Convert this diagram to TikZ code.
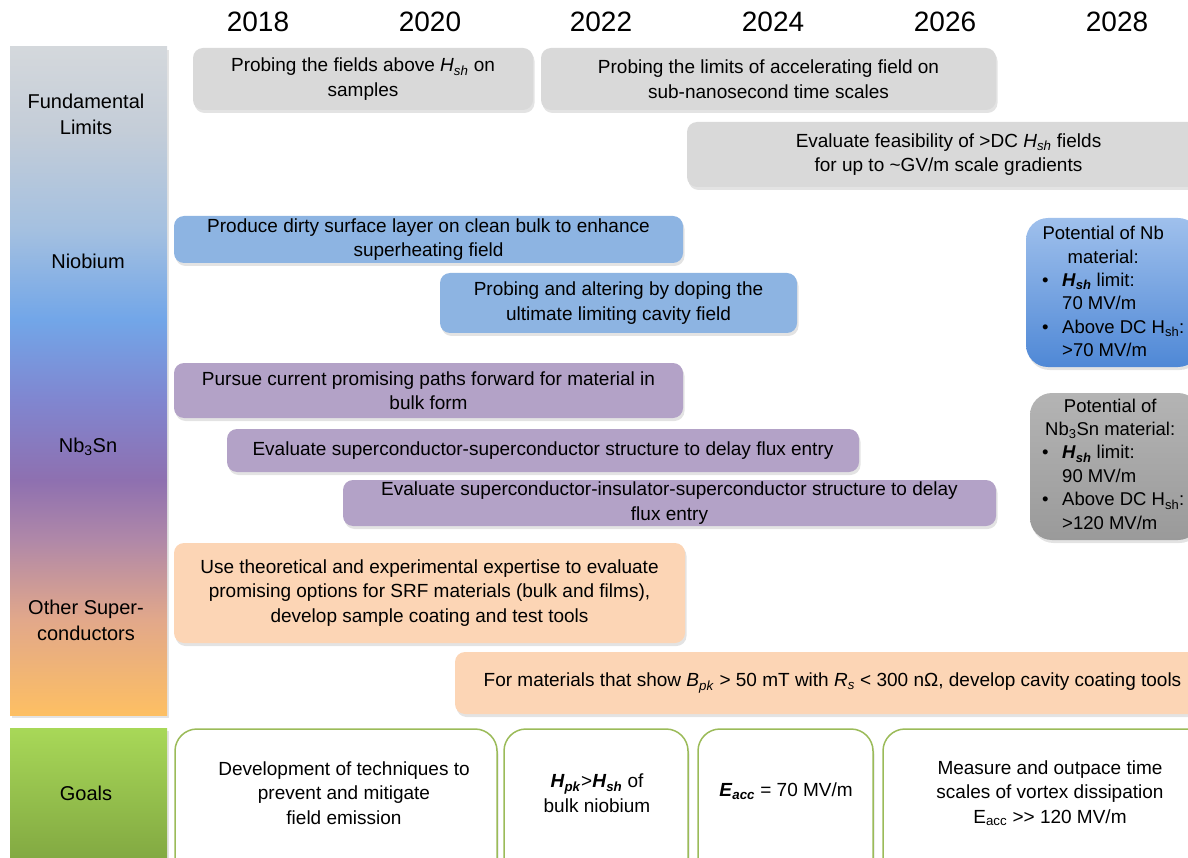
\documentclass[tikz,border=0pt]{standalone}
\usepackage{fontspec}
\setmainfont{Liberation Sans}
\usetikzlibrary{shadows}
\definecolor{grayfill}{HTML}{D9D9D9}
\definecolor{bluefill}{HTML}{8DB4E2}
\definecolor{purplefill}{HTML}{B3A2C7}
\definecolor{orangefill}{HTML}{FCD5B5}
\definecolor{goalgreen}{HTML}{9BBB59}
\definecolor{cOr}{HTML}{FDBF63}
\definecolor{cTan}{HTML}{E2A88A}
\definecolor{cMauve}{HTML}{B088A8}
\definecolor{cPurple}{HTML}{8E70B0}
\definecolor{cViolet}{HTML}{8086D0}
\definecolor{cBlue}{HTML}{72A6E8}
\definecolor{cLBlue}{HTML}{A4C0E0}
\definecolor{cPale}{HTML}{C4CDD8}
\definecolor{cTop}{HTML}{D4D8DC}
\definecolor{gTop}{HTML}{A8D858}
\definecolor{gBot}{HTML}{7FA540}
\definecolor{nbTop}{HTML}{9FC0EC}
\definecolor{nbBot}{HTML}{4F88D6}
\definecolor{snTop}{HTML}{B4B4B4}
\definecolor{snBot}{HTML}{9A9A9A}
\pgfdeclareverticalshading{catbar}{100bp}{color(0bp)=(cOr); color(25bp)=(cOr); color(32.1bp)=(cTan); color(38.1bp)=(cMauve); color(42.6bp)=(cPurple); color(48.6bp)=(cViolet); color(54.6bp)=(cBlue); color(61.3bp)=(cLBlue); color(68.8bp)=(cPale); color(75bp)=(cTop); color(100bp)=(cTop)}
\newcommand\boxfont{\fontsize{19}{24.5}\selectfont}
\newcommand\rfont{\fontsize{18.5}{23.4}\selectfont}
\newcommand\yearfont{\fontsize{28}{32}\selectfont}
\newcommand\catfont{\fontsize{20}{26}\selectfont}
\newcommand\Hsh{\textit{H}\textsubscript{\textit{sh}}}
\newcommand\bHsh{\textbf{\textit{H}\textsubscript{\textit{sh}}}}
\newcommand\bul{\hspace*{6pt}\makebox[20pt][l]{\textbullet}}
\newcommand\hang{\hspace*{26pt}}
\tikzset{
  shade/.style={drop shadow={shadow xshift=1.5pt, shadow yshift=-3pt, opacity=0.22}},
  catbox/.style={rounded corners=10pt, inner sep=0pt, align=center, font=\boxfont, shade},
  goalbox/.style={draw=goalgreen, line width=1.5pt, fill=white, rounded corners=22pt, inner sep=0pt, shade},
  rbox/.style={rounded corners=22pt, inner sep=0pt, shade},
  bar/.style={inner sep=0pt, shade},
  yearlbl/.style={font=\yearfont, inner sep=0pt},
  catlbl/.style={font=\catfont, align=center, inner sep=0pt},
  txt/.style={font=\boxfont, align=center, inner sep=0pt},
}
\begin{document}
\begin{tikzpicture}[x=1pt, y=-1pt]
\useasboundingbox (0,0) rectangle (1188,858);
% years
\node[yearlbl] (y18) at (258,22) {2018};
\node[yearlbl] (y20) at (430,22) {2020};
\node[yearlbl] (y22) at (601,22) {2022};
\node[yearlbl] (y24) at (773,22) {2024};
\node[yearlbl] (y26) at (945,22) {2026};
\node[yearlbl] (y28) at (1117,22) {2028};
% category bar
\node[bar, shading=catbar, minimum width=157, minimum height=668] (cat) at (88.5,381) {};
\node[catlbl] (lfund) at (86,114) {Fundamental\\Limits};
\node[catlbl] (lnb) at (88,261) {Niobium};
\node[catlbl] (lsn) at (88,447) {Nb\textsubscript{3}Sn};
\node[catlbl] (loth) at (86,620) {Other Super-\\conductors};
% goals bar
\node[bar, top color=gTop, bottom color=gBot, minimum width=157, minimum height=142] (goalbar) at (88.5,799) {};
\node[catlbl] (lgoal) at (86,793) {Goals};
% fundamental limits
\node[catbox, fill=grayfill, minimum width=340, minimum height=62] (f1) at (363,79) {Probing the fields above \Hsh{} on\\samples};
\node[catbox, fill=grayfill, minimum width=455, minimum height=62] (f2) at (768.5,79) {Probing the limits of accelerating field on\\sub-nanosecond time scales};
\node[catbox, fill=grayfill, minimum width=523, minimum height=65] (f3) at (948.5,154.5) {Evaluate feasibility of >DC \Hsh{} fields\\for up to \textasciitilde GV/m scale gradients};
% niobium
\node[catbox, fill=bluefill, minimum width=509, minimum height=47] (n1) at (428.5,239.5) {Produce dirty surface layer on clean bulk to enhance\\superheating field};
\node[catbox, fill=bluefill, minimum width=357, minimum height=60] (n2) at (618.5,303) {Probing and altering by doping the\\ultimate limiting cavity field};
% Nb3Sn
\node[catbox, fill=purplefill, minimum width=509, minimum height=55] (s1) at (428.5,390.5) {Pursue current promising paths forward for material in\\bulk form};
\node[catbox, fill=purplefill, minimum width=632, minimum height=43] (s2) at (543,450.5) {Evaluate superconductor-superconductor structure to delay flux entry};
\node[catbox, fill=purplefill, minimum width=653, minimum height=46] (s3) at (669.5,503) {Evaluate superconductor-insulator-superconductor structure to delay\\flux entry};
% other superconductors
\node[catbox, fill=orangefill, minimum width=511, minimum height=100] (o1) at (429.5,593) {Use theoretical and experimental expertise to evaluate\\promising options for SRF materials (bulk and films),\\develop sample coating and test tools};
\node[catbox, fill=orangefill, minimum width=755, minimum height=62] (o2) at (832.5,683) {For materials that show \textit{B}\textsubscript{\textit{pk}} > 50 mT with \textit{R}\textsubscript{\textit{s}} < 300 nΩ, develop cavity coating tools};
% potential boxes
\node[rbox, top color=nbTop, bottom color=nbBot, minimum width=174, minimum height=149] (nbbox) at (1113,292.5) {};
\node[font=\rfont, inner sep=0pt, anchor=west] (nbtxt) at (1036,291.5) {\begin{minipage}{150pt}
\makebox[134pt][c]{Potential of Nb}\par
\makebox[134pt][c]{material:}\par
\bul\bHsh{} limit:\par
\hang 70 MV/m\par
\bul Above DC H\textsubscript{sh}:\par
\hang >70 MV/m\par\end{minipage}};
\node[rbox, top color=snTop, bottom color=snBot, minimum width=170, minimum height=147] (snbox) at (1115,466.5) {};
\node[font=\rfont, inner sep=0pt, anchor=west] (sntxt) at (1036,464) {\begin{minipage}{150pt}
\makebox[148pt][c]{Potential of}\par
\makebox[148pt][c]{Nb\textsubscript{3}Sn material:}\par
\bul\bHsh{} limit:\par
\hang 90 MV/m\par
\bul Above DC H\textsubscript{sh}:\par
\hang >120 MV/m\par\end{minipage}};
% goals
\node[goalbox, minimum width=322, minimum height=151] (g1) at (336,804.5) {};
\node[txt] (g1t) at (344,793) {Development of techniques to\\prevent and mitigate\\field emission};
\node[goalbox, minimum width=184, minimum height=151] (g2) at (596,804.5) {};
\node[txt] (g2t) at (597,793) {\textbf{\textit{H}\textsubscript{\textit{pk}}}>\bHsh{} of\\bulk niobium};
\node[goalbox, minimum width=175, minimum height=151] (g3) at (785.5,804.5) {};
\node[txt] (g3t) at (786,791) {\textbf{\textit{E}\textsubscript{\textit{acc}}} = 70 MV/m};
\node[goalbox, minimum width=337, minimum height=151] (g4) at (1051.5,804.5) {};
\node[txt] (g4t) at (1050,793) {Measure and outpace time\\scales of vortex dissipation\\E\textsubscript{acc} >{}> 120 MV/m};
\end{tikzpicture}
\end{document}
